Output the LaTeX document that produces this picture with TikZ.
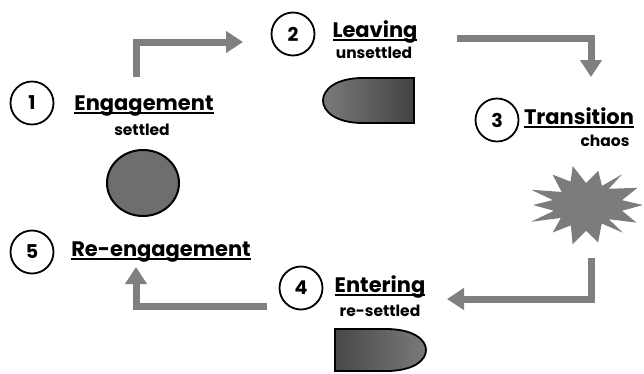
\documentclass[tikz,border=0pt]{standalone}
\usepackage{fontspec}
\setmainfont{Poppins}
\usetikzlibrary{shapes,arrows.meta}
\definecolor{flowgray}{HTML}{808080}
\definecolor{ballgray}{HTML}{6E6E6E}
\definecolor{burstgray}{HTML}{7C7C7C}
\newcommand\ulbox[1]{\setbox0=\hbox{#1}\rlap{\copy0}\rule[-4pt]{\wd0}{1.8pt}}
\tikzset{num/.style={circle,draw,line width=1.8pt,minimum size=43pt,inner sep=0pt,font=\fontsize{19}{19}\selectfont\bfseries},
  ttl/.style={anchor=base,inner sep=0pt,font=\fontsize{21}{21}\selectfont\bfseries},
  sub/.style={anchor=base,inner sep=0pt,font=\fontsize{15.5}{15.5}\selectfont\bfseries},
  flow/.style={draw=flowgray,line width=7pt,-{Triangle[width=21pt,length=17pt]}},
  ball/.style={ellipse,draw,line width=2pt,fill=ballgray,minimum width=72pt,minimum height=66pt},
  plug/.style={draw,line width=1.8pt},
  burst/.style={fill=burstgray}}
\begin{document}
\begin{tikzpicture}[x=1pt,y=-1pt]
    \useasboundingbox (0,0) rectangle (644,373);

    \node[num] (n1) at (32,103) {1};
    \node[num] (n2) at (293,34) {2};
    \node[num] (n3) at (497,120) {3};
    \node[num] (n4) at (301,288) {4};
    \node[num] (n5) at (32,252) {5};

    \node[ttl] (t1) at (144,110) {\ulbox{Engagement}};
    \node[sub] (s1) at (142,135) {settled};
    \node[ttl] (t2) at (375,37) {\ulbox{Leaving}};
    \node[sub] (s2) at (374,58) {unsettled};
    \node[ttl] (t3) at (579,124) {\ulbox{Transition}};
    \node[sub] (s3) at (605,146) {chaos};
    \node[ttl] (t4) at (380,292) {\ulbox{Entering}};
    \node[sub] (s4) at (380,316) {re-settled};
    \node[ttl] (t5) at (161,256) {\ulbox{Re-engagement}};

    \node[ball] (b1) at (143,183) {};
    \shade[plug,left color=black!52,right color=black!74] (414,78) -- (363,78)
        .. controls (335,78) and (323,90) .. (323,100.5)
        .. controls (323,111) and (335,123) .. (363,123) -- (414,123) -- cycle;
    \fill[burst] plot[samples at={0,...,27},variable=\i]
        ({586+(57-mod(\i,2)*24+4*sin(\i*97))*cos(\i*360/28)},{205+(38-mod(\i,2)*15+3*sin(\i*61))*sin(\i*360/28)}) -- cycle;
    \shade[plug,left color=black!72,right color=black!52] (335,329) -- (386,329)
        .. controls (414,329) and (426,340) .. (426,350)
        .. controls (426,360) and (414,371) .. (386,371) -- (335,371) -- cycle;

    \coordinate (p1) at (136,77);
    \coordinate (q1) at (243,42);
    \coordinate (p2) at (457,38);
    \coordinate (q2) at (591,77);
    \coordinate (p3) at (591,258);
    \coordinate (q3) at (447,299);
    \coordinate (p4) at (267,306);
    \coordinate (q4) at (136,267);

    \draw[flow] (p1) |- (q1);
    \draw[flow] (p2) -| (q2);
    \draw[flow] (p3) |- (q3);
    \draw[flow] (p4) -| (q4);
\end{tikzpicture}
\end{document}
